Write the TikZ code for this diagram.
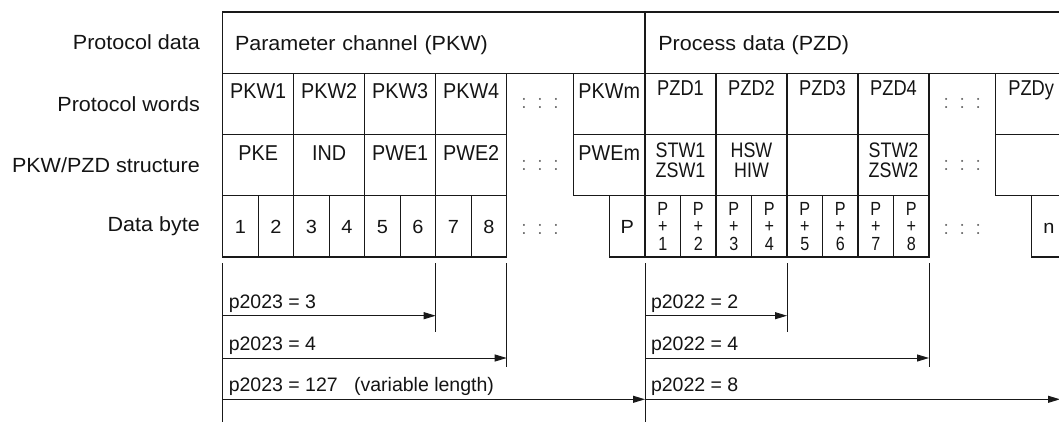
\documentclass[tikz,border=0pt]{standalone}
\usepackage{fontspec}
\setmainfont{Liberation Sans}[FakeStretch=1.05]
\newfontfamily\plainfont{Liberation Sans}
\newfontfamily\wordfont{Liberation Sans}[FakeStretch=0.92]
\newfontfamily\pzdfont{Liberation Sans}[FakeStretch=0.85]
\usetikzlibrary{arrows.meta, positioning, calc}
\definecolor{linecol}{RGB}{25,25,25}
\definecolor{textcol}{RGB}{20,20,20}
\definecolor{dotcol}{RGB}{115,115,115}
\newcommand{\stacked}[1]{\begin{tabular}[t]{@{}c@{}}#1\end{tabular}}

\tikzset{
  cell/.style={draw=linecol, line width=1.2pt, outer sep=0pt, inner sep=0pt,
    anchor=north west, minimum height=61.25pt, text=textcol,
    font=\fontsize{20.5}{23}\selectfont},
  topcell/.style={cell, align=left, text height=38.7pt, text depth=22.55pt},
  wordcell/.style={cell, minimum width=71pt, text height=25.6pt, text depth=35.65pt,
    font=\wordfont\fontsize{21.5}{24}\selectfont},
  pzdcell/.style={wordcell, text height=22.7pt, text depth=38.55pt,
    font=\pzdfont\fontsize{21.5}{24}\selectfont},
  twocell/.style={pzdcell, text height=23.3pt, text depth=37.95pt,
    font=\pzdfont\fontsize{21}{18.4}\selectfont},
  bytecell/.style={cell, minimum width=35.5pt, text height=37.4pt, text depth=23.85pt,
    font=\fontsize{19}{22}\selectfont},
  stackcell/.style={bytecell, font=\pzdfont\fontsize{19}{17}\selectfont,
    text height=19.5pt, text depth=41.75pt},
  rowlabel/.style={anchor=east, inner sep=0pt, text=textcol,
    font=\fontsize{20.5}{23}\selectfont},
  dots/.style={inner sep=0pt, text=dotcol, font=\plainfont\fontsize{19}{19}\selectfont},
  tick/.style={draw=linecol, line width=0.9pt},
  arr/.style={tick, -{Triangle[length=12pt, width=7pt]}},
  lenlabel/.style={anchor=base west, inner sep=0pt, xshift=5.6pt, yshift=7.7pt,
    text=textcol, font=\plainfont\fontsize{19.5}{22}\selectfont},
}

\begin{document}
\begin{tikzpicture}[x=1pt, y=1pt]
\useasboundingbox (0,0) rectangle (1059,421);
\clip (0,0) rectangle (1059,421);

% protocol data
\node[topcell, minimum width=422.3pt, text width=397.7pt, inner xsep=12.3pt] (pkw) at (222.7,409) {Parameter channel (PKW)};
\node[topcell, minimum width=430pt, text width=403.4pt, inner xsep=13.3pt] (pzd) at (645,409) {Process data (PZD)};

% protocol words
\foreach \wname [count=\i] in {PKW1,PKW2,PKW3,PKW4}
  \node[wordcell] (w\i) at ({222.7+(\i-1)*71},347.75) {\wname};
\node[wordcell, minimum width=71.6pt] (wm) at (573.4,347.75) {PKWm};
\foreach \wname [count=\i] in {PZD1,PZD2,PZD3,PZD4}
  \node[pzdcell] (z\i) at ({645+(\i-1)*71},347.75) {\wname};
\node[pzdcell] (zy) at (995.7,347.75) {PZDy};

% PKW/PZD structure
\foreach \sname [count=\i] in {PKE,IND,PWE1,PWE2}
  \node[wordcell] (s\i) at ({222.7+(\i-1)*71},286.5) {\sname};
\node[wordcell, minimum width=71.6pt] (sm) at (573.4,286.5) {PWEm};
\node[twocell] (t1) at (645,286.5) {\stacked{STW1\\ZSW1}};
\node[twocell] (t2) at (716,286.5) {\stacked{HSW\\HIW}};
\node[twocell] (t3) at (787,286.5) {};
\node[twocell] (t4) at (858,286.5) {\stacked{STW2\\ZSW2}};
\node[twocell] (ty) at (995.7,286.5) {};

% data bytes
\foreach \i in {1,...,8}
  \node[bytecell] (b\i) at ({222.7+(\i-1)*35.5},225.25) {\i};
\node[bytecell, minimum width=35.7pt] (bp) at (609.3,225.25) {P};
\foreach \i in {1,...,8}
  \node[stackcell] (q\i) at ({645+(\i-1)*35.5},225.25) {\stacked{P\\+\\\i}};
\node[bytecell] (bn) at (1031.2,225.25) {n};

% gaps
\node[dots] (dw) at ($(w4.north east)!0.5!(wm.south west)$) {:\hspace{10.7pt}:\hspace{10.7pt}:};
\node[dots] (ds) at ($(s4.north east)!0.5!(sm.south west)$) {:\hspace{10.7pt}:\hspace{10.7pt}:};
\node[dots, yshift=-3pt] (db) at (dw |- b8) {:\hspace{10.7pt}:\hspace{10.7pt}:};
\node[dots] (dz) at ($(z4.north east)!0.5!(zy.south west)$) {:\hspace{10.7pt}:\hspace{10.7pt}:};
\node[dots] (dt) at ($(t4.north east)!0.5!(ty.south west)$) {:\hspace{10.7pt}:\hspace{10.7pt}:};
\node[dots, yshift=-3pt] (dq) at (dz |- q8) {:\hspace{10.7pt}:\hspace{10.7pt}:};

\node[rowlabel, left=22.7pt of pkw.west] (lbldata) {Protocol data};
\node[rowlabel, left=22.7pt of w1.west] (lblwords) {Protocol words};
\node[rowlabel, left=22.7pt of s1.west] (lblstruct) {PKW/PZD structure};
\node[rowlabel, left=22.7pt of b1.west] (lblbyte) {Data byte};

% lengths
\coordinate (floor) at (0,-2);
\coordinate (rim) at (1060,0);
\coordinate (lvA) at (0,105.3);
\coordinate (lvB) at (0,63);
\coordinate (lvC) at (0,21.7);
\coordinate (endA) at (0,89.3);
\coordinate (endB) at (0,54.3);

\draw[tick] ($(b1.south west)+(0,-6)$) -- (b1.south west |- floor);
\draw[tick] ($(b6.south east)+(0,-6)$) -- (b6.south east |- endA);
\draw[tick] ($(b8.south east)+(0,-6)$) -- (b8.south east |- endB);
\draw[tick] ($(q1.south west)+(0,-6)$) -- (q1.south west |- floor);
\draw[tick] ($(q4.south east)+(0,-6)$) -- (q4.south east |- endA);
\draw[tick] ($(q8.south east)+(0,-6)$) -- (q8.south east |- endB);

\draw[arr] (b1.south west |- lvA) -- (b6.south east |- lvA) node[lenlabel, pos=0] (lk3) {p2023 = 3};
\draw[arr] (b1.south west |- lvB) -- (b8.south east |- lvB) node[lenlabel, pos=0] (lk4) {p2023 = 4};
\draw[arr] (b1.south west |- lvC) -- (q1.south west |- lvC) node[lenlabel, pos=0] (lkv) {p2023 = 127\hspace{11pt} (variable length)};
\draw[arr] (q1.south west |- lvA) -- (q4.south east |- lvA) node[lenlabel, pos=0] (lz2) {p2022 = 2};
\draw[arr] (q1.south west |- lvB) -- (q8.south east |- lvB) node[lenlabel, pos=0] (lz4) {p2022 = 4};
\draw[arr] (q1.south west |- lvC) -- (rim |- lvC) node[lenlabel, pos=0] (lz8) {p2022 = 8};
\end{tikzpicture}
\end{document}
